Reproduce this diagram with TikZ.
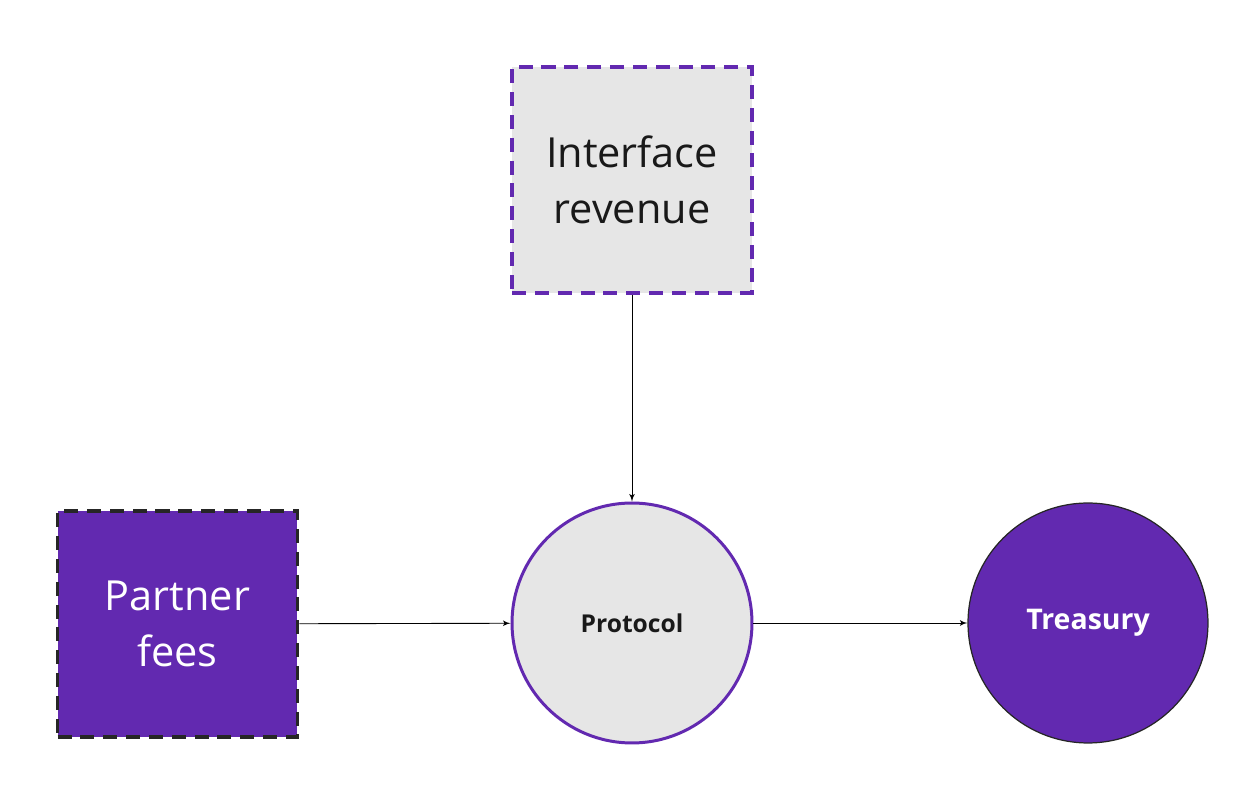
\documentclass[tikz,border=0pt]{standalone}
\usepackage{fontspec}
\setmainfont{Open Sans}
\usetikzlibrary{arrows}
\definecolor{vpurple}{HTML}{6229B0}
\definecolor{vgrey}{HTML}{E6E6E6}
\begin{document}
\begin{tikzpicture}[x=0.02cm,y=-0.02cm]
\tikzset{source/.style = {shape=rectangle,minimum width=4.8cm,minimum height=4.52cm,
  line width=2.1pt,dash pattern=on 8pt off 5pt,align=center,
  font=\fontsize{23.6}{32}\selectfont}}
\tikzset{pool/.style = {shape=circle,minimum size=4.8cm,inner sep=0pt,
  font=\bfseries}}
\tikzset{edge/.style = {->,> = latex',line width=0.5pt}}
\useasboundingbox (0,0) rectangle (1259,793);

% vertices

\node[source,draw=vpurple,fill=vgrey,text=black!90] (iface) at (632,180) {Interface\\revenue};
\node[source,draw=black!85,fill=vpurple,text=white] (partner) at (177.5,624) {Partner\\fees};
\node[pool,draw=vpurple,line width=1.7pt,fill=vgrey,text=black!90,
  font=\fontsize{14}{17}\selectfont\bfseries] (protocol) at (632,623) {Protocol};
\node[pool,draw=black!85,line width=0.7pt,fill=vpurple,text=white,
  font=\fontsize{16.2}{19}\selectfont\bfseries] (treasury) at (1088,623) {Treasury};

% edges

\draw[edge] (iface) to (protocol);
\draw[edge] (partner) to (protocol);
\draw[edge] (protocol) to (treasury);
\end{tikzpicture}
\end{document}
